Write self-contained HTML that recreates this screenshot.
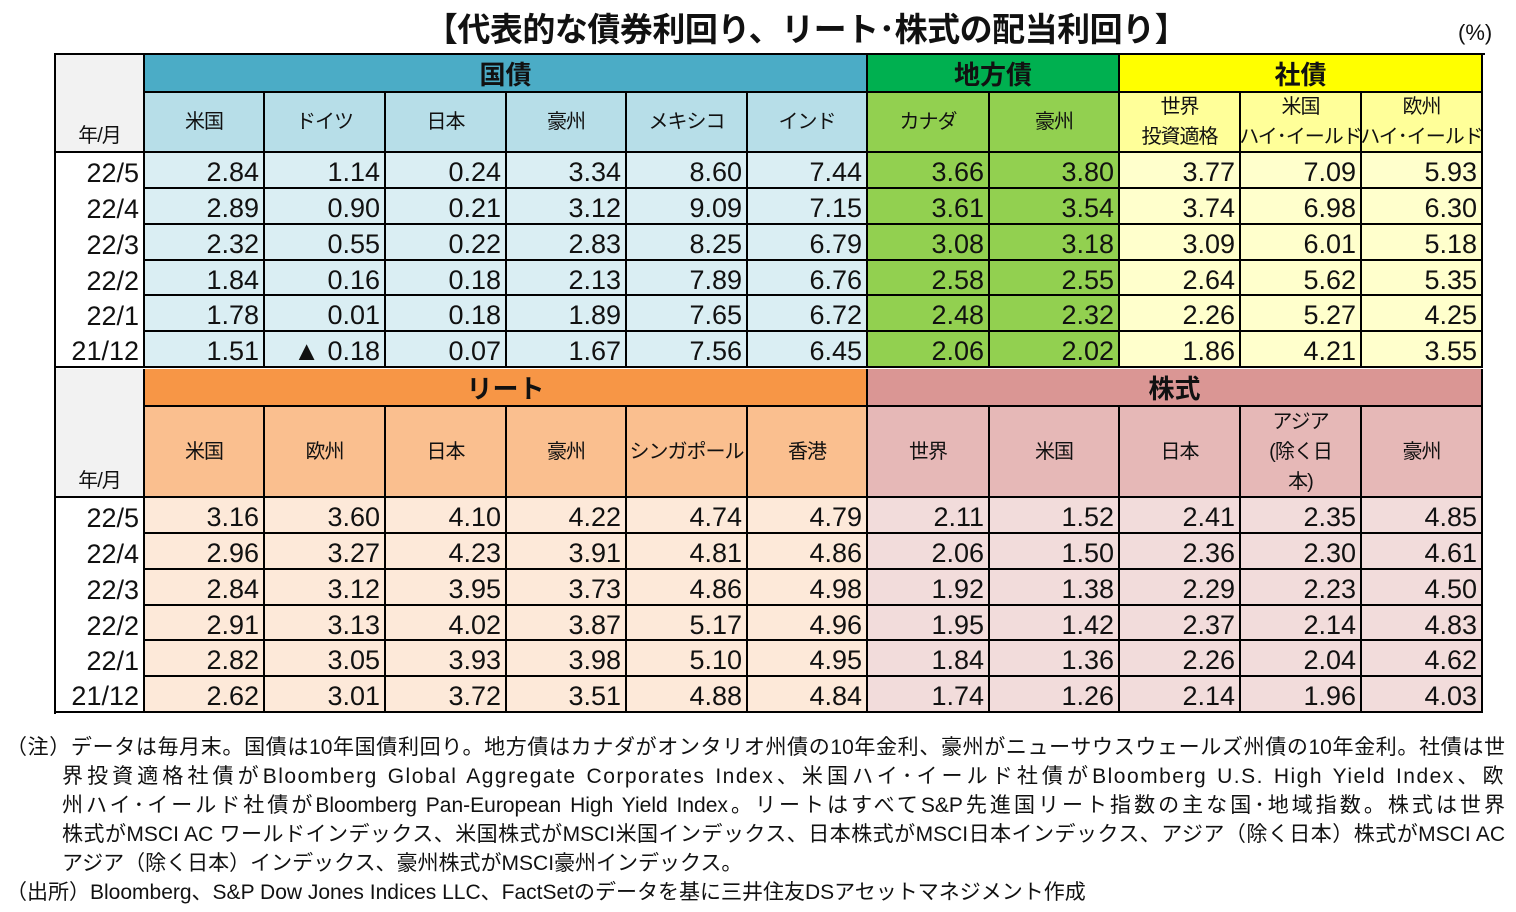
<!DOCTYPE html>
<html><head><meta charset="utf-8">
<style>
body{margin:0;width:1516px;height:912px;background:#fff;position:relative;overflow:hidden;font-family:"Liberation Sans","Noto Sans CJK JP",sans-serif;color:#111}
.c{position:absolute;box-sizing:border-box;border-right:2px solid #000;border-bottom:2px solid #000;display:flex;align-items:center;}
.num{justify-content:flex-end;padding-right:4px;padding-top:5px;font-size:27px;}
.hd{justify-content:center;text-align:center;font-size:20px;line-height:30px;white-space:nowrap;letter-spacing:-1px;}
.big{justify-content:center;font-size:26px;font-weight:bold;}
.note{position:absolute;font-size:21px;white-space:nowrap;text-align:justify;text-align-last:justify;}
</style></head><body>
<div style="position:absolute;left:0;width:1612px;top:3px;text-align:center;font-size:33px;font-weight:bold;letter-spacing:-0.5px;">【代表的な債券利回り、リート･株式の配当利回り】</div>
<div style="position:absolute;left:1458px;top:20px;font-size:22px;">(%)</div>
<div id="tbl" style="position:absolute;left:0;top:0;"></div>
<div class="note" style="left:6px;width:1499px;top:731px;">（注）データは毎月末。国債は10年国債利回り。地方債はカナダがオンタリオ州債の10年金利、豪州がニューサウスウェールズ州債の10年金利。社債は世</div>
<div class="note" style="left:62px;width:1443px;top:760px;letter-spacing:1.5px;">界投資適格社債がBloomberg Global Aggregate Corporates Index、米国ハイ･イールド社債がBloomberg U.S. High Yield Index、欧</div>
<div class="note" style="left:62px;width:1443px;top:789px;">州ハイ･イールド社債がBloomberg Pan-European High Yield Index。リートはすべてS&amp;P先進国リート指数の主な国･地域指数。株式は世界</div>
<div class="note" style="left:62px;width:1443px;top:818px;">株式がMSCI AC ワールドインデックス、米国株式がMSCI米国インデックス、日本株式がMSCI日本インデックス、アジア（除く日本）株式がMSCI AC</div>
<div class="note" style="left:62px;top:847px;text-align:left;text-align-last:left;">アジア（除く日本）インデックス、豪州株式がMSCI豪州インデックス。</div>
<div class="note" style="left:6px;top:876px;text-align:left;text-align-last:left;">（出所）Bloomberg、S&amp;P Dow Jones Indices LLC、FactSetのデータを基に三井住友DSアセットマネジメント作成</div>
<script>
const dates=["22/5","22/4","22/3","22/2","22/1","21/12"];
const topCols=["米国","ドイツ","日本","豪州","メキシコ","インド","カナダ","豪州","世界<br>投資適格","米国<br>ハイ･イールド","欧州<br>ハイ･イールド"];
const botCols=["米国","欧州","日本","豪州","シンガポール","香港","世界","米国","日本","アジア<br>(除く日<br>本)","豪州"];
const topVals=[
["2.84","1.14","0.24","3.34","8.60","7.44","3.66","3.80","3.77","7.09","5.93"],
["2.89","0.90","0.21","3.12","9.09","7.15","3.61","3.54","3.74","6.98","6.30"],
["2.32","0.55","0.22","2.83","8.25","6.79","3.08","3.18","3.09","6.01","5.18"],
["1.84","0.16","0.18","2.13","7.89","6.76","2.58","2.55","2.64","5.62","5.35"],
["1.78","0.01","0.18","1.89","7.65","6.72","2.48","2.32","2.26","5.27","4.25"],
["1.51","▲ 0.18","0.07","1.67","7.56","6.45","2.06","2.02","1.86","4.21","3.55"]];
const botVals=[
["3.16","3.60","4.10","4.22","4.74","4.79","2.11","1.52","2.41","2.35","4.85"],
["2.96","3.27","4.23","3.91","4.81","4.86","2.06","1.50","2.36","2.30","4.61"],
["2.84","3.12","3.95","3.73","4.86","4.98","1.92","1.38","2.29","2.23","4.50"],
["2.91","3.13","4.02","3.87","5.17","4.96","1.95","1.42","2.37","2.14","4.83"],
["2.82","3.05","3.93","3.98","5.10","4.95","1.84","1.36","2.26","2.04","4.62"],
["2.62","3.01","3.72","3.51","4.88","4.84","1.74","1.26","2.14","1.96","4.03"]];
const xs=[56,145,265,386,507,627,748,868,990,1120,1241,1362,1483];
const T=document.getElementById('tbl');
function cell(x,y,w,h,cls,bg,html){const d=document.createElement('div');d.className='c '+cls;d.style.left=x+'px';d.style.top=y+'px';d.style.width=w+'px';d.style.height=h+'px';d.style.background=bg;d.innerHTML=html;T.appendChild(d);return d;}
const ob=document.createElement('div');ob.style.cssText='position:absolute;left:54px;top:53px;width:2px;height:661px;background:#000';


T.appendChild(ob);
const tb=document.createElement('div');tb.style.cssText='position:absolute;left:54px;top:53px;width:1431px;height:2px;background:#000';


T.appendChild(tb);
function section(y0,h1,h2,groups,cols,vals,subBg,dataBg,pref){
  const rh=(215)/6;
  let d=cell(xs[0],y0,xs[1]-xs[0],h1+h2,'hd','#f2f2f2','');
  d.style.alignItems='flex-end';d.innerHTML='<span style="margin-bottom:0px">年/月</span>';
  
  
  groups.forEach(g=>{
    let e=cell(xs[g[0]],y0,xs[g[1]]-xs[g[0]],h1,'big',g[3],g[2]);
    
    
  });
  cols.forEach((c,i)=>{
    let e=cell(xs[i+1],y0+h1,xs[i+2]-xs[i+1],h2,'hd',subBg[i],c);
    
    
  });
  const yd=y0+h1+h2;
  dates.forEach((dt,r)=>{
    const y=Math.round(yd+r*rh), hh=Math.round(yd+(r+1)*rh)-y;
    let e=cell(xs[0],y,xs[1]-xs[0],hh,'num','#fff',dt);
    e.style.borderBottom=(r==5?'2px solid #000':'none');
    
    
    vals[r].forEach((v,i)=>{
      let f=cell(xs[i+1],y,xs[i+2]-xs[i+1],hh,'num',dataBg[i],v);
      
      
    });
  });
}
const bl='#b7dee8',bl2='#daeef3',gr='#92d050',ye='#ffff99',ye2='#ffffcc',or='#fabf8f',or2='#fde9d9',pk='#e6b8b7',pk2='#f2dcdb';
section(55,38,60,[[1,7,'国債','#4bacc6'],[7,9,'地方債','#00b050'],[9,12,'社債','#ffff00']],topCols,topVals,
 [bl,bl,bl,bl,bl,bl,gr,gr,ye,ye,ye],[bl2,bl2,bl2,bl2,bl2,bl2,gr,gr,ye2,ye2,ye2],'bond');
section(369,38,91,[[1,7,'リート','#f79646'],[7,12,'株式','#da9694']],botCols,botVals,
 [or,or,or,or,or,or,pk,pk,pk,pk,pk],[or2,or2,or2,or2,or2,or2,pk2,pk2,pk2,pk2,pk2],'reit-stock');
</script>
</body></html>
